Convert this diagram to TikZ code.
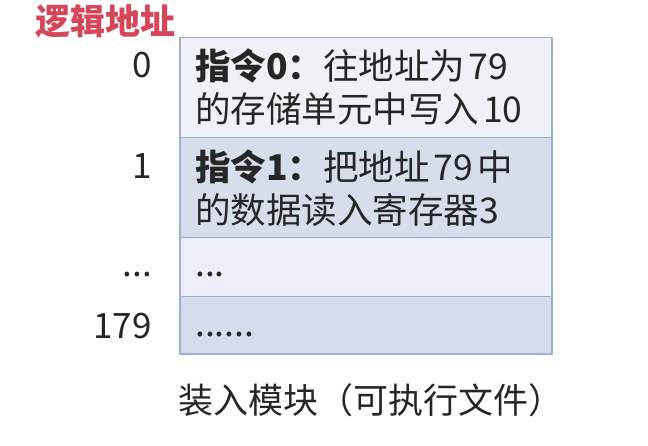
\documentclass[tikz,border=0pt]{standalone}
\usepackage{fontspec}
\setmainfont{Noto Sans CJK SC}
\definecolor{rowA}{HTML}{EEF1F8}
\definecolor{rowB}{HTML}{D6DDEB}
\definecolor{rowC}{HTML}{ECEFF8}
\definecolor{rowD}{HTML}{D5DCEB}
\definecolor{bordercol}{HTML}{9FB0CF}
\definecolor{textcol}{HTML}{262626}
\definecolor{titlered}{HTML}{D6465A}
\begin{document}
\begin{tikzpicture}[x=1pt,y=-1pt,
  rowbox/.style={draw=bordercol, line width=1.5pt, minimum width=372pt, anchor=north west, inner sep=0pt},
  txt/.style={anchor=base west, inner sep=0pt, font=\fontsize{35.5}{43}\selectfont, text=textcol},
  lbl/.style={anchor=base east, inner sep=0pt, font=\fontsize{35}{43}\selectfont, text=textcol}]
\useasboundingbox (0,0) rectangle (648,446);
\fill[white] (0,0) rectangle (648,446);
% rows
\node[rowbox, fill=rowA, minimum height=100pt] (r0) at (179,37) {};
\node[rowbox, fill=rowB, minimum height=100pt] (r1) at (179,137) {};
\node[rowbox, fill=rowC, minimum height=59pt] (r2) at (179,237) {};
\node[rowbox, fill=rowD, minimum height=57pt] (r3) at (179,296) {};
% row texts
\node[txt] (t0a) at (195,80) {{\bfseries 指令0：}往地址为\hspace{3pt}79};
\node[txt] (t0b) at (195,123) {的存储单元中写入\hspace{4pt}10};
\node[txt] (t1a) at (195,181) {{\bfseries 指令1：}把地址\hspace{4pt}79\hspace{4pt}中};
\node[txt] (t1b) at (195,224) {的数据读入寄存器3};
\node[txt] (t2) at (195,277) {...};
\node[txt] (t3) at (195,337) {......};
% address labels
\node[lbl] (l0) at (152,78) {0};
\node[lbl] (l1) at (152,179) {1};
\node[lbl] (l2) at (152,277) {...};
\node[lbl] (l3) at (152,338) {179};
% title and caption
\node[anchor=base west, inner sep=0pt, font=\fontsize{35}{40}\selectfont\bfseries, text=titlered] (title) at (35,35) {逻辑地址};
\node[anchor=base, inner sep=0pt, font=\fontsize{35}{40}\selectfont, text=textcol] (cap) at (371,413) {装入模块（可执行文件）};
\end{tikzpicture}
\end{document}
